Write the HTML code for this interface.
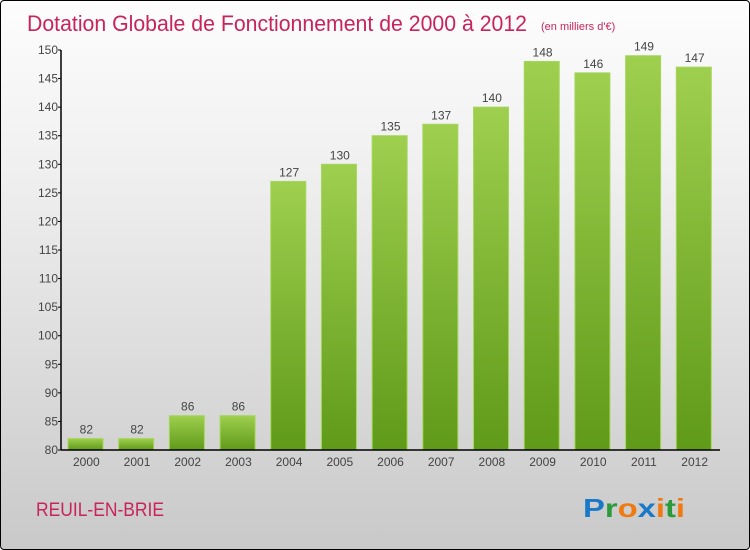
<!DOCTYPE html>
<html><head><meta charset="utf-8"><style>
html,body{margin:0;padding:0;}
body{width:750px;height:550px;overflow:hidden;font-family:"Liberation Sans",sans-serif;}
#wrap{position:absolute;left:0;top:0;width:748px;height:548px;border:1px solid #000;border-radius:4px;background:linear-gradient(#fdfdfd,#f0f0f0 30%,#c9c9c9);}
</style></head><body>
<div id="wrap">
<svg id="chart" width="750" height="550" style="position:absolute;left:-1px;top:-1px">
<defs>
<linearGradient id="bg" x1="0" y1="0" x2="0" y2="1"><stop offset="0" stop-color="#9fcf4f"/><stop offset="1" stop-color="#5f9a18"/></linearGradient>
</defs>
<text x="27" y="31" font-size="22" fill="#c8245a" textLength="500" lengthAdjust="spacingAndGlyphs">Dotation Globale de Fonctionnement de 2000 à 2012</text>
<text x="541" y="30" font-size="11" fill="#c8245a">(en milliers d'€)</text>
<text x="36" y="516" font-size="19" fill="#c8245a" textLength="128" lengthAdjust="spacingAndGlyphs">REUIL-EN-BRIE</text>
<text x="583" y="517" font-size="26" font-weight="bold" textLength="102" lengthAdjust="spacingAndGlyphs"><tspan fill="#1a78c8">P</tspan><tspan fill="#2a9a3a">r</tspan><tspan fill="#f07a10">o</tspan><tspan fill="#1a78c8">x</tspan><tspan fill="#f07a10">i</tspan><tspan fill="#2a9a3a">t</tspan><tspan fill="#f07a10">i</tspan></text>
<g id="bars"></g>
<g id="axes"></g>
</svg>
</div>
<script>
const categories=["2000","2001","2002","2003","2004","2005","2006","2007","2008","2009","2010","2011","2012"];
const values=[82,82,86,86,127,130,135,137,140,148,146,149,147];
const yTicks=[80,85,90,95,100,105,110,115,120,125,130,135,140,145,150];
const NS="http://www.w3.org/2000/svg";
const x0=61,x1=720,y0=450,y1=50,yMin=80,yMax=150;
const band=(x1-x0)/categories.length;
function y(v){return y0-(v-yMin)/(yMax-yMin)*(y0-y1);}
function bx(i){return x0+i*band;}
function mk(t,a,p){const e=document.createElementNS(NS,t);for(const k in a)e.setAttribute(k,a[k]);p.appendChild(e);return e;}
const bars=document.getElementById('bars'),axes=document.getElementById('axes');
values.forEach((v,i)=>{
 const r=mk('rect',{x:bx(i)+7,y:y(v),width:35,height:y0-y(v),fill:'url(#bg)',stroke:'#a6d65a','stroke-width':1},bars);
 
 
 const t=mk('text',{x:bx(i)+band/2,y:y(v)-5,'font-size':12,'text-anchor':'middle',fill:'#444'},bars);
 t.textContent=values[i];
 
 
 const c=mk('text',{x:bx(i)+band/2,y:466,'font-size':12,'text-anchor':'middle',fill:'#444'},axes);
 c.textContent=categories[i];
 
 
});
yTicks.forEach(v=>{
 mk('line',{x1:x0-3,x2:x0,y1:y(v),y2:y(v),stroke:'#000'},axes);
 const t=mk('text',{x:x0-3,y:y(v)+4,'font-size':12,'text-anchor':'end',fill:'#444'},axes);
 t.textContent=v;
 
 
});
const ya=mk('line',{x1:x0,x2:x0,y1:y1,y2:y0,stroke:'#000','stroke-width':1.5},axes);


const xa=mk('line',{x1:x0,x2:x1,y1:y0,y2:y0,stroke:'#000','stroke-width':1.5},axes);


</script>
</body></html>
